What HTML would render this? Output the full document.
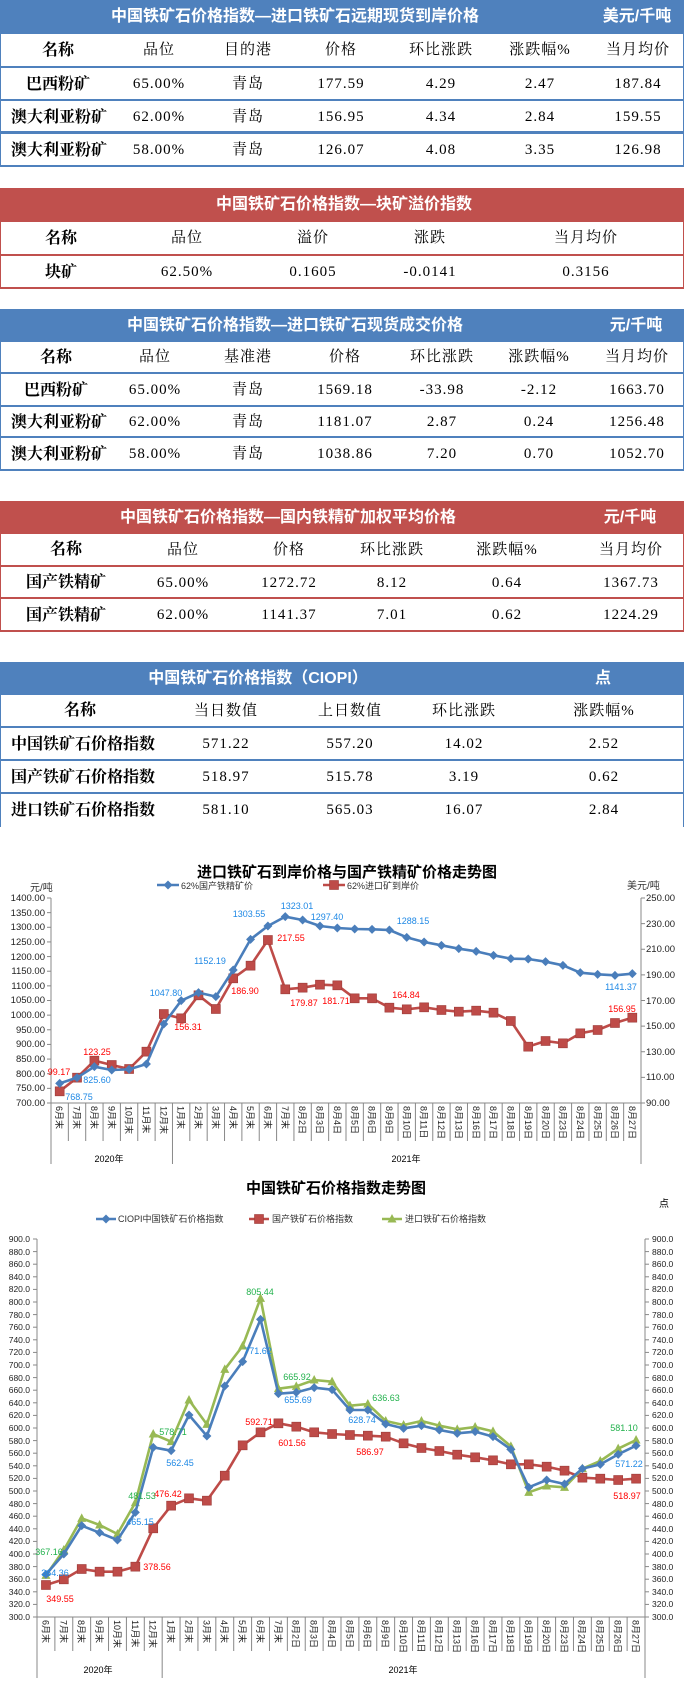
<!DOCTYPE html>
<html><head><meta charset="utf-8">
<style>
*{margin:0;padding:0;box-sizing:border-box}
body{width:684px;height:1681px;position:relative;background:#fff;overflow:hidden;font-family:"Liberation Serif","Noto Serif CJK SC",serif;color:#000}
.blk{position:absolute;left:0;width:684px}
.h{position:absolute;left:0;width:684px;color:#fff;font-weight:bold;font-family:"Liberation Sans","Noto Sans CJK SC",sans-serif;font-size:16px}
.b{background:#4f81bd}.rd{background:#c0504d}
.r{position:absolute;left:0;width:684px;border-left:1px solid;border-right:1px solid}
.r span,.h span{position:absolute;top:0;transform:translateX(-50%);white-space:nowrap}
.r span{font-size:15px;letter-spacing:1px}
.r span.n{font-weight:bold;font-size:16px;letter-spacing:0}
.r span.l{transform:none;left:10px;font-weight:bold;font-size:16px;letter-spacing:0}
.bl{border-color:#4f81bd}.rl{border-color:#c0504d}
.cat{position:absolute;display:flex;font-family:"Liberation Sans","Noto Sans CJK SC",sans-serif;font-size:9px;color:#222}
.cat div{flex:1;writing-mode:vertical-rl;text-orientation:sideways;display:flex;align-items:center;justify-content:flex-start;padding-top:2px}
svg{position:absolute;left:0;top:0}
svg text{font-family:"Liberation Sans","Noto Sans CJK SC",sans-serif}
</style></head><body>

<!-- Table 1 -->
<div class="h b" style="top:0;height:34px;line-height:34px"><span style="left:295px">中国铁矿石价格指数—进口铁矿石远期现货到岸价格</span><span style="left:637px">美元/千吨</span></div>
<div class="r bl" style="top:34px;height:34px;line-height:33px;border-bottom:2px solid #4f81bd"><span class="n" style="left:57px">名称</span><span style="left:158px">品位</span><span style="left:247px">目的港</span><span style="left:340px">价格</span><span style="left:440px">环比涨跌</span><span style="left:539px">涨跌幅%</span><span style="left:637px">当月均价</span></div>
<div class="r bl" style="top:68px;height:33px;line-height:33px;border-bottom:2px solid #4f81bd"><span class="n" style="left:57px">巴西粉矿</span><span style="left:158px">65.00%</span><span style="left:247px">青岛</span><span style="left:340px">177.59</span><span style="left:440px">4.29</span><span style="left:539px">2.47</span><span style="left:637px">187.84</span></div>
<div class="r bl" style="top:101px;height:33px;line-height:33px;border-bottom:3px solid #4f81bd"><span class="l">澳大利亚粉矿</span><span style="left:158px">62.00%</span><span style="left:247px">青岛</span><span style="left:340px">156.95</span><span style="left:440px">4.34</span><span style="left:539px">2.84</span><span style="left:637px">159.55</span></div>
<div class="r bl" style="top:134px;height:33px;line-height:33px;border-bottom:2px solid #4f81bd"><span class="l">澳大利亚粉矿</span><span style="left:158px">58.00%</span><span style="left:247px">青岛</span><span style="left:340px">126.07</span><span style="left:440px">4.08</span><span style="left:539px">3.35</span><span style="left:637px">126.98</span></div>

<!-- Table 2 -->
<div class="h rd" style="top:188px;height:34px;line-height:34px"><span style="left:344px">中国铁矿石价格指数—块矿溢价指数</span></div>
<div class="r rl" style="top:222px;height:34px;line-height:33px;border-bottom:2px solid #c0504d"><span class="n" style="left:60px">名称</span><span style="left:186px">品位</span><span style="left:312px">溢价</span><span style="left:429px">涨跌</span><span style="left:585px">当月均价</span></div>
<div class="r rl" style="top:256px;height:33px;line-height:33px;border-bottom:2px solid #c0504d"><span class="n" style="left:60px">块矿</span><span style="left:186px">62.50%</span><span style="left:312px">0.1605</span><span style="left:429px">-0.0141</span><span style="left:585px">0.3156</span></div>

<!-- Table 3 -->
<div class="h b" style="top:309px;height:33px;line-height:33px"><span style="left:295px">中国铁矿石价格指数—进口铁矿石现货成交价格</span><span style="left:636px">元/千吨</span></div>
<div class="r bl" style="top:342px;height:32px;line-height:31px;border-bottom:2px solid #4f81bd"><span class="n" style="left:55px">名称</span><span style="left:154px">品位</span><span style="left:247px">基准港</span><span style="left:344px">价格</span><span style="left:441px">环比涨跌</span><span style="left:538px">涨跌幅%</span><span style="left:636px">当月均价</span></div>
<div class="r bl" style="top:374px;height:33px;line-height:33px;border-bottom:2px solid #4f81bd"><span class="n" style="left:55px">巴西粉矿</span><span style="left:154px">65.00%</span><span style="left:247px">青岛</span><span style="left:344px">1569.18</span><span style="left:441px">-33.98</span><span style="left:538px">-2.12</span><span style="left:636px">1663.70</span></div>
<div class="r bl" style="top:407px;height:31px;line-height:31px;border-bottom:2px solid #4f81bd"><span class="l">澳大利亚粉矿</span><span style="left:154px">62.00%</span><span style="left:247px">青岛</span><span style="left:344px">1181.07</span><span style="left:441px">2.87</span><span style="left:538px">0.24</span><span style="left:636px">1256.48</span></div>
<div class="r bl" style="top:438px;height:33px;line-height:33px;border-bottom:2px solid #4f81bd"><span class="l">澳大利亚粉矿</span><span style="left:154px">58.00%</span><span style="left:247px">青岛</span><span style="left:344px">1038.86</span><span style="left:441px">7.20</span><span style="left:538px">0.70</span><span style="left:636px">1052.70</span></div>

<!-- Table 4 -->
<div class="h rd" style="top:501px;height:33px;line-height:33px"><span style="left:288px">中国铁矿石价格指数—国内铁精矿加权平均价格</span><span style="left:630px">元/千吨</span></div>
<div class="r rl" style="top:534px;height:33px;line-height:32px;border-bottom:2px solid #c0504d"><span class="n" style="left:65px">名称</span><span style="left:182px">品位</span><span style="left:288px">价格</span><span style="left:391px">环比涨跌</span><span style="left:506px">涨跌幅%</span><span style="left:630px">当月均价</span></div>
<div class="r rl" style="top:567px;height:32px;line-height:32px;border-bottom:2px solid #c0504d"><span class="n" style="left:65px">国产铁精矿</span><span style="left:182px">65.00%</span><span style="left:288px">1272.72</span><span style="left:391px">8.12</span><span style="left:506px">0.64</span><span style="left:630px">1367.73</span></div>
<div class="r rl" style="top:599px;height:33px;line-height:33px;border-bottom:2px solid #c0504d"><span class="n" style="left:65px">国产铁精矿</span><span style="left:182px">62.00%</span><span style="left:288px">1141.37</span><span style="left:391px">7.01</span><span style="left:506px">0.62</span><span style="left:630px">1224.29</span></div>

<!-- Table 5 -->
<div class="h b" style="top:662px;height:33px;line-height:33px"><span style="left:258px">中国铁矿石价格指数（CIOPI）</span><span style="left:603px">点</span></div>
<div class="r bl" style="top:695px;height:33px;line-height:32px;border-bottom:2px solid #4f81bd"><span class="n" style="left:79px">名称</span><span style="left:225px">当日数值</span><span style="left:349px">上日数值</span><span style="left:463px">环比涨跌</span><span style="left:603px">涨跌幅%</span></div>
<div class="r bl" style="top:728px;height:33px;line-height:33px;border-bottom:2px solid #4f81bd"><span class="l">中国铁矿石价格指数</span><span style="left:225px">571.22</span><span style="left:349px">557.20</span><span style="left:463px">14.02</span><span style="left:603px">2.52</span></div>
<div class="r bl" style="top:761px;height:33px;line-height:33px;border-bottom:2px solid #4f81bd"><span class="l">国产铁矿石价格指数</span><span style="left:225px">518.97</span><span style="left:349px">515.78</span><span style="left:463px">3.19</span><span style="left:603px">0.62</span></div>
<div class="r bl" style="top:794px;height:33px;line-height:33px"><span class="l">进口铁矿石价格指数</span><span style="left:225px">581.10</span><span style="left:349px">565.03</span><span style="left:463px">16.07</span><span style="left:603px">2.84</span></div>

<svg width="684" height="1681" viewBox="0 0 684 1681">
<g id="c1"></g><g id="c2"></g>
<!-- Chart 1 texts -->
<text x="347" y="877" font-size="15" font-weight="bold" text-anchor="middle">进口铁矿石到岸价格与国产铁精矿价格走势图</text>
<text x="181" y="889" font-size="9" fill="#333">62%国产铁精矿价</text>
<text x="347" y="889" font-size="9" fill="#333">62%进口矿到岸价</text>
<text x="30" y="891" font-size="10" fill="#333">元/吨</text>
<text x="627" y="889" font-size="10" fill="#333">美元/吨</text>
<g font-size="9.5" text-anchor="end" fill="#222">
<text x="45" y="901">1400.00</text><text x="45" y="916">1350.00</text><text x="45" y="930">1300.00</text><text x="45" y="945">1250.00</text><text x="45" y="960">1200.00</text><text x="45" y="974">1150.00</text><text x="45" y="989">1100.00</text><text x="45" y="1003">1050.00</text><text x="45" y="1018">1000.00</text><text x="45" y="1033">950.00</text><text x="45" y="1047">900.00</text><text x="45" y="1062">850.00</text><text x="45" y="1077">800.00</text><text x="45" y="1091">750.00</text><text x="45" y="1106">700.00</text>
</g>
<g font-size="9.5" fill="#222">
<text x="646" y="901">250.00</text><text x="646" y="927">230.00</text><text x="646" y="952">210.00</text><text x="646" y="978">190.00</text><text x="646" y="1004">170.00</text><text x="646" y="1029">150.00</text><text x="646" y="1055">130.00</text><text x="646" y="1080">110.00</text><text x="646" y="1106">90.00</text>
</g>
<text x="109" y="1162" font-size="9" text-anchor="middle">2020年</text>
<text x="406" y="1162" font-size="9" text-anchor="middle">2021年</text>
<g font-size="9" fill="#1e88e5" text-anchor="middle">
<text x="79" y="1100">768.75</text><text x="97" y="1083">825.60</text><text x="166" y="996">1047.80</text><text x="210" y="964">1152.19</text><text x="249" y="917">1303.55</text><text x="297" y="909">1323.01</text><text x="327" y="920">1297.40</text><text x="413" y="924">1288.15</text><text x="621" y="990">1141.37</text>
</g>
<g font-size="9" fill="#ff0000" text-anchor="middle">
<text x="59" y="1075">99.17</text><text x="97" y="1055">123.25</text><text x="188" y="1030">156.31</text><text x="245" y="994">186.90</text><text x="291" y="941">217.55</text><text x="304" y="1006">179.87</text><text x="336" y="1004">181.71</text><text x="406" y="998">164.84</text><text x="622" y="1012">156.95</text>
</g>

<!-- Chart 2 texts -->
<text x="336" y="1193" font-size="15" font-weight="bold" text-anchor="middle">中国铁矿石价格指数走势图</text>
<text x="664" y="1207" font-size="10" text-anchor="middle">点</text>
<text x="118" y="1222" font-size="9" fill="#333">CIOPI中国铁矿石价格指数</text>
<text x="272" y="1222" font-size="9" fill="#333">国产铁矿石价格指数</text>
<text x="405" y="1222" font-size="9" fill="#333">进口铁矿石价格指数</text>
<g font-size="8.5" fill="#222" id="lt2" text-anchor="end">
<text x="30" y="1242">900.0</text><text x="30" y="1255">880.0</text><text x="30" y="1267">860.0</text><text x="30" y="1280">840.0</text><text x="30" y="1292">820.0</text><text x="30" y="1305">800.0</text><text x="30" y="1318">780.0</text><text x="30" y="1330">760.0</text><text x="30" y="1343">740.0</text><text x="30" y="1355">720.0</text><text x="30" y="1368">700.0</text><text x="30" y="1381">680.0</text><text x="30" y="1393">660.0</text><text x="30" y="1406">640.0</text><text x="30" y="1418">620.0</text><text x="30" y="1431">600.0</text><text x="30" y="1444">580.0</text><text x="30" y="1456">560.0</text><text x="30" y="1469">540.0</text><text x="30" y="1481">520.0</text><text x="30" y="1494">500.0</text><text x="30" y="1507">480.0</text><text x="30" y="1519">460.0</text><text x="30" y="1532">440.0</text><text x="30" y="1544">420.0</text><text x="30" y="1557">400.0</text><text x="30" y="1570">380.0</text><text x="30" y="1582">360.0</text><text x="30" y="1595">340.0</text><text x="30" y="1607">320.0</text><text x="30" y="1620">300.0</text>
</g>
<g font-size="8.5" fill="#222">
<text x="652" y="1242">900.0</text><text x="652" y="1255">880.0</text><text x="652" y="1267">860.0</text><text x="652" y="1280">840.0</text><text x="652" y="1292">820.0</text><text x="652" y="1305">800.0</text><text x="652" y="1318">780.0</text><text x="652" y="1330">760.0</text><text x="652" y="1343">740.0</text><text x="652" y="1355">720.0</text><text x="652" y="1368">700.0</text><text x="652" y="1381">680.0</text><text x="652" y="1393">660.0</text><text x="652" y="1406">640.0</text><text x="652" y="1418">620.0</text><text x="652" y="1431">600.0</text><text x="652" y="1444">580.0</text><text x="652" y="1456">560.0</text><text x="652" y="1469">540.0</text><text x="652" y="1481">520.0</text><text x="652" y="1494">500.0</text><text x="652" y="1507">480.0</text><text x="652" y="1519">460.0</text><text x="652" y="1532">440.0</text><text x="652" y="1544">420.0</text><text x="652" y="1557">400.0</text><text x="652" y="1570">380.0</text><text x="652" y="1582">360.0</text><text x="652" y="1595">340.0</text><text x="652" y="1607">320.0</text><text x="652" y="1620">300.0</text>
</g>
<text x="98" y="1673" font-size="9" text-anchor="middle">2020年</text>
<text x="403" y="1673" font-size="9" text-anchor="middle">2021年</text>
<g font-size="9" fill="#22b14c" text-anchor="middle">
<text x="49" y="1555">367.16</text><text x="142" y="1499">481.53</text><text x="173" y="1435">578.71</text><text x="260" y="1295">805.44</text><text x="297" y="1380">665.92</text><text x="386" y="1401">636.63</text><text x="624" y="1431">581.10</text>
</g>
<g font-size="9" fill="#1e88e5" text-anchor="middle">
<text x="55" y="1576">364.36</text><text x="140" y="1525">465.15</text><text x="180" y="1466">562.45</text><text x="258" y="1354">771.62</text><text x="298" y="1403">655.69</text><text x="362" y="1423">628.74</text><text x="629" y="1467">571.22</text>
</g>
<g font-size="9" fill="#ff0000" text-anchor="middle">
<text x="60" y="1602">349.55</text><text x="157" y="1570">378.56</text><text x="168" y="1497">476.42</text><text x="259" y="1425">592.71</text><text x="292" y="1446">601.56</text><text x="370" y="1455">586.97</text><text x="627" y="1499">518.97</text>
</g>
</svg>

<div class="cat" style="left:51px;top:1104px;width:590px;height:40px">
<div>6月末</div><div>7月末</div><div>8月末</div><div>9月末</div><div>10月末</div><div>11月末</div><div>12月末</div><div>1月末</div><div>2月末</div><div>3月末</div><div>4月末</div><div>5月末</div><div>6月末</div><div>7月末</div><div>8月2日</div><div>8月3日</div><div>8月4日</div><div>8月5日</div><div>8月6日</div><div>8月9日</div><div>8月10日</div><div>8月11日</div><div>8月12日</div><div>8月13日</div><div>8月16日</div><div>8月17日</div><div>8月18日</div><div>8月19日</div><div>8月20日</div><div>8月23日</div><div>8月24日</div><div>8月25日</div><div>8月26日</div><div>8月27日</div>
</div>
<div class="cat" style="left:37px;top:1618px;width:608px;height:40px">
<div>6月末</div><div>7月末</div><div>8月末</div><div>9月末</div><div>10月末</div><div>11月末</div><div>12月末</div><div>1月末</div><div>2月末</div><div>3月末</div><div>4月末</div><div>5月末</div><div>6月末</div><div>7月末</div><div>8月2日</div><div>8月3日</div><div>8月4日</div><div>8月5日</div><div>8月6日</div><div>8月9日</div><div>8月10日</div><div>8月11日</div><div>8月12日</div><div>8月13日</div><div>8月16日</div><div>8月17日</div><div>8月18日</div><div>8月19日</div><div>8月20日</div><div>8月23日</div><div>8月24日</div><div>8月25日</div><div>8月26日</div><div>8月27日</div>
</div>

<script>
(function(){
var NS="http://www.w3.org/2000/svg";
function el(p,t,a){var e=document.createElementNS(NS,t);for(var k in a)e.setAttribute(k,a[k]);p.appendChild(e);return e;}
var BL="#4a7ebb",RD="#be4b48",GR="#98b954",AX="#888";
function marker(g,type,x,y,c){
 if(type=="d")el(g,"polygon",{points:(x)+","+(y-4.5)+" "+(x+4.5)+","+y+" "+x+","+(y+4.5)+" "+(x-4.5)+","+y,fill:c});
 else if(type=="s")el(g,"rect",{x:x-4.5,y:y-4.5,width:9,height:9,fill:c,stroke:"#9c3a37","stroke-width":0.6});
 else el(g,"polygon",{points:x+","+(y-5)+" "+(x+4.5)+","+(y+3.5)+" "+(x-4.5)+","+(y+3.5),fill:c});
}
function series(g,x0,w,off,arr,c,type){
 var pts=arr.map(function(v,i){return [x0+(i+0.5)*w,off+v/3];});
 el(g,"polyline",{points:pts.map(function(p){return p.join(",")}).join(" "),fill:"none",stroke:c,"stroke-width":2.6,"stroke-linejoin":"round"});
 pts.forEach(function(p){marker(g,type,p[0],p[1],c);});
}
function axes(g,x0,x1,yt,yb,nL,nR,catEnd,yearEnd,yearSplit){
 el(g,"line",{x1:x0,y1:yt,x2:x0,y2:yb,stroke:AX});
 el(g,"line",{x1:x1,y1:yt,x2:x1,y2:yb,stroke:AX});
 el(g,"line",{x1:x0,y1:yb,x2:x1,y2:yb,stroke:AX});
 for(var i=0;i<nL;i++){var y=yt+(yb-yt)*i/(nL-1);el(g,"line",{x1:x0-4,y1:y,x2:x0,y2:y,stroke:AX});}
 for(var i=0;i<nR;i++){var y=yt+(yb-yt)*i/(nR-1);el(g,"line",{x1:x1,y1:y,x2:x1+4,y2:y,stroke:AX});}
 var w=(x1-x0)/34;
 for(var i=0;i<=34;i++){var x=x0+i*w;var long=(i==0||i==34||i==yearSplit);
  el(g,"line",{x1:x,y1:yb,x2:x,y2:long?yearEnd:catEnd,stroke:AX});}
 return w;
}
// Chart 1
var g1=document.getElementById("c1");
var w1=axes(g1,51,641,898,1103,15,9,1141,1164,7);
var b1=[700,683,650,660,658,642,522,452,428,440,360,268,228,200,210,228,234,237,238,240,262,276,286,296,304,316,326,327,335,346,368,373,376,371];
var r1=[724,683,632,645,657,605,492,505,436,477,385,347,270,418,413,404,406,445,445,473,478,472,480,485,482,488,513,590,573,580,550,540,519,503];
series(g1,51,w1,850,r1,RD,"s");
series(g1,51,w1,850,b1,BL,"d");
// legend 1
el(g1,"line",{x1:157,y1:885,x2:179,y2:885,stroke:BL,"stroke-width":2.5});marker(g1,"d",168,885,BL);
el(g1,"line",{x1:323,y1:885,x2:345,y2:885,stroke:RD,"stroke-width":2.5});marker(g1,"s",334,885,RD);
// Chart 2
var g2=document.getElementById("c2");
var w2=axes(g2,37,645,1239,1617,31,31,1651,1678,7);
var b2=[1183,1122,1037,1058,1080,997,802,812,705,768,618,545,418,641,637,623,629,690,690,732,745,737,750,760,755,770,808,922,900,912,866,853,823,797];
var gr2=[1186,1110,1015,1035,1062,968,762,785,660,733,568,498,355,626,619,600,605,677,672,723,735,723,737,748,741,754,799,937,918,922,866,843,806,780];
var r2=[1215,1198,1167,1175,1175,1160,1045,977,955,962,887,796,757,730,740,757,762,765,767,770,790,804,813,824,832,841,853,853,860,872,893,896,900,896];
series(g2,37,w2,1180,r2,RD,"s");
series(g2,37,w2,1180,gr2,GR,"t");
series(g2,37,w2,1180,b2,BL,"d");
el(g2,"line",{x1:96,y1:1219,x2:116,y2:1219,stroke:BL,"stroke-width":2.5});marker(g2,"d",106,1219,BL);
el(g2,"line",{x1:249,y1:1219,x2:269,y2:1219,stroke:RD,"stroke-width":2.5});marker(g2,"s",259,1219,RD);
el(g2,"line",{x1:382,y1:1219,x2:402,y2:1219,stroke:GR,"stroke-width":2.5});marker(g2,"t",392,1219,GR);
})();
</script>
</body></html>
